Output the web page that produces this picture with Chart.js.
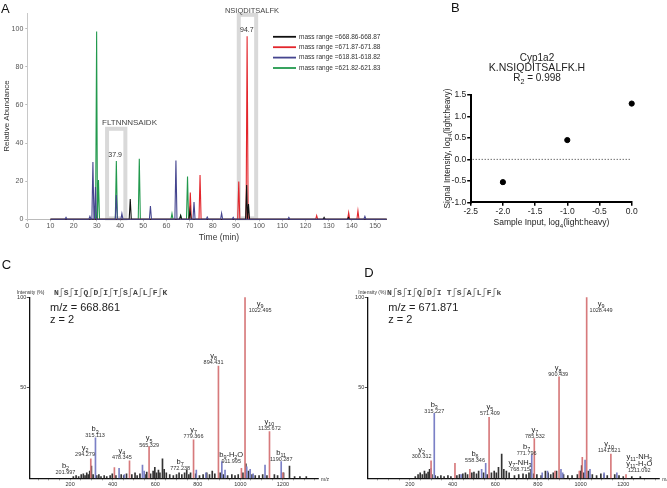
<!DOCTYPE html>
<html>
<head>
<meta charset="utf-8">
<script src="https://cdn.jsdelivr.net/npm/chart.js@4.4.1/dist/chart.umd.min.js"></script>
<style>
  html, body { margin: 0; padding: 0; background: #fff; }
  #wrap { position: relative; width: 667px; height: 488px; overflow: hidden; }
  canvas { position: absolute; }
</style>
</head>
<body>
<div id="wrap">
  <canvas id="chartA" width="400" height="245" style="left:0;top:0;width:400px;height:245px"></canvas>
  <canvas id="chartB" width="267" height="245" style="left:400px;top:0;width:267px;height:245px"></canvas>
  <canvas id="chartC" width="335" height="243" style="left:0;top:245px;width:335px;height:243px"></canvas>
  <canvas id="chartD" width="332" height="243" style="left:335px;top:245px;width:332px;height:243px"></canvas>
</div>
<script>
// ---- panel A: extracted ion chromatograms [time, relative abundance]
const timeTicks = [0, 10, 20, 30, 40, 50, 60, 70, 80, 90, 100, 110, 120, 130, 140, 150]
const abundanceTicks = [0, 20, 40, 60, 80, 100]
const massRanges = [
  "mass range =668.86-668.87",
  "mass range =671.87-671.88",
  "mass range =618.81-618.82",
  "mass range =621.82-621.83"
]
const peaksBlack = [[44.4, 10.7], [66.1, 2], [70.2, 5], [94.6, 18], [95.4, 8], [128, 1], [138.5, 1]]
const peaksRed = [[70.3, 14], [74.5, 23.3], [91.2, 19.8], [94.8, 96], [124.8, 2], [138.6, 3.5], [142.6, 4.5]]
const peaksNavy = [[16.7, 1], [27, 1.5], [28.3, 30], [29.4, 17], [38.4, 12.8], [40.8, 3], [53.1, 7], [64.1, 30.8],
  [71.9, 9], [77.6, 1.2], [83.8, 3.2], [88.8, 1], [112.8, 1], [145.6, 1.5]]
const peaksGreen = [[29.9, 98.5], [30.7, 20.6], [38.4, 30.6], [48.3, 31.8], [62.4, 3], [66.2, 2], [69.1, 22.5]]

// ---- panel B: calibration
const inputLog = [-2.0, -1.0, 0.0]
const signalLog = [-0.53, 0.45, 1.3]
const inputTicks = [-2.5, -2.0, -1.5, -1.0, -0.5, 0.0]
const signalTicks = [-1.0, -0.5, 0.0, 0.5, 1.0, 1.5]

// ---- panels C / D: MS/MS spectra [m/z, intensity %]
const mzTicks = [200, 400, 600, 800, 1000, 1200]
const intensityTicks = [50, 100]

const lightSeq = ["N", "S", "I", "Q", "D", "I", "T", "S", "A", "L", "F", "K"]
const lightCuts = [1, 1, 1, 1, 1, 1, 1, 1, 1, 1, 1]
const heavySeq = ["N", "S", "I", "Q", "D", "I", "T", "S", "A", "L", "F", "k"]
const heavyCuts = [1, 1, 1, 1, 1, 0, 1, 1, 1, 1, 1]

const lightRed = [[297, 10.7], [408, 5.9], [479, 9.6], [571, 17.5], [780, 21.2], [897, 62], [1005, 5.5],
  [1022, 100], [1137, 25.8], [1200, 3]]
const lightBlue = [[319, 22.4], [430, 5.5], [455, 2], [540, 7.3], [548, 4], [793, 4.6], [838, 3], [913, 9.2],
  [928, 4.6], [1030, 6.4], [1046, 5], [1060, 2.5], [1116, 7.3], [1192, 9.2]]
const lightBlack = [[215, 1], [228, 1.5], [240, 1], [252, 2], [262, 2.5], [270, 1.5], [278, 3], [285, 2], [292, 4],
  [300, 6.8], [308, 2], [325, 1.5], [335, 2], [345, 1], [360, 1.5], [372, 1], [388, 1.5], [398, 2.5], [415, 1.5],
  [440, 2], [452, 1.5], [465, 2.5], [490, 2], [505, 3], [515, 1.5], [528, 2.5], [552, 2], [560, 3.5], [578, 2.5],
  [590, 4], [598, 6], [606, 3], [615, 4.5], [622, 3], [634, 10.7], [642, 5], [652, 3], [668, 2], [685, 1.5],
  [700, 2], [712, 3], [725, 2], [738, 3], [748, 4.5], [758, 2], [766, 3], [790, 2.5], [808, 1.5], [825, 2],
  [842, 3], [855, 2], [868, 4], [880, 2.5], [905, 3], [920, 2], [940, 1.5], [960, 2], [975, 1.5], [990, 2],
  [1012, 3], [1026, 8], [1038, 4], [1055, 2], [1070, 1.5], [1088, 1.5], [1105, 2], [1125, 1.5], [1160, 2],
  [1175, 1.5], [1203, 3], [1231, 6.8], [1255, 1], [1280, 1], [1310, 1]]
// [ion name(s), m/z text, label m/z, label intensity]
const lightIons = [
  ["b_2", "201.997", 178, 3.1],
  ["y_2", "294.279", 270, 13.4],
  ["b_3", "315.113", 317, 23.4],
  ["y_4", "478.345", 443, 11.6],
  ["y_5", "565.329", 571, 18.4],
  ["b_7", "772.238", 717, 5.5],
  ["y_7", "779.366", 780, 23],
  ["y_8", "894.431", 874, 63.9],
  ["b_9-H_2O", "911.995", 957, 9.2],
  ["y_9", "1022.495", 1093, 92.6],
  ["y_10", "1135.672", 1137, 27.6],
  ["b_11", "1190.287", 1192, 10.5]
]

const heavyRed = [[299, 9.7], [411, 8.3], [481, 5], [571, 33.7], [783, 22], [880, 4], [899, 56], [994, 4],
  [1008, 11.6], [1028.5, 100], [1142, 13.4], [1213, 2]]
const heavyBlue = [[299, 5.5], [314, 35.9], [440, 2], [536, 5], [555, 8.3], [771, 12.9], [820, 3], [845, 4],
  [908, 5], [916, 3], [1021, 10], [1044, 5], [1110, 3], [1170, 3]]
const heavyBlack = [[225, 1], [238, 2], [248, 3], [258, 2], [268, 4], [276, 2.5], [285, 3.5], [292, 5], [303, 2],
  [318, 1.5], [330, 1], [345, 1.5], [360, 1], [378, 1.5], [392, 1], [420, 1.5], [432, 2], [448, 2.5], [460, 3],
  [470, 2], [490, 3], [500, 3.5], [512, 2.5], [522, 4], [545, 3], [562, 2], [582, 3], [595, 4], [605, 3], [615, 6],
  [630, 13.4], [640, 5], [652, 4], [665, 3], [690, 1.5], [710, 2], [730, 2.5], [745, 2], [758, 3], [768, 5],
  [780, 2.5], [795, 2], [815, 1.5], [835, 4], [848, 3], [860, 2], [872, 3], [887, 4], [920, 2], [940, 1.5],
  [960, 1.5], [985, 2], [1000, 4], [1005, 7], [1015, 3], [1036, 4], [1055, 2], [1075, 1.5], [1095, 2.5],
  [1110, 2], [1125, 1.5], [1160, 2], [1180, 1.5], [1200, 1], [1240, 1], [1280, 1]]
const heavyIons = [
  ["y_2", "300.312", 255, 12.3],
  ["b_3", "315.227", 314, 36.8],
  ["b_6", "558.346", 505, 10.1],
  ["y_5", "571.409", 575, 35.9],
  ["y_7-NH_3", "768.715", 716, 5],
  ["b_7", "771.796", 747, 13.8],
  ["y_7", "785.532", 786, 23],
  ["y_8", "900.439", 895, 57.1],
  ["y_9", "1028.449", 1096, 92.6],
  ["y_10", "1141.621", 1134, 15.2],
  ["y_11-NH_3|y_11-H_2O", "1211.092", 1275, 4.3]
]

const SANS = "'Liberation Sans', Arial, sans-serif"
Chart.defaults.font.family = SANS
Chart.defaults.animation = false
Chart.defaults.events = []
Chart.defaults.plugins.legend.display = false
Chart.defaults.plugins.tooltip.enabled = false

const setTicks = list => axis => { axis.ticks = list.map(v => ({ value: v })) }

function txt(ctx, s, x, y, o = {}) {
  ctx.save()
  ctx.font = o.font || `8px ${SANS}`
  ctx.fillStyle = o.color || "#222"
  ctx.textAlign = o.align || "left"
  ctx.textBaseline = o.base || "alphabetic"
  ctx.translate(x, y)
  if (o.rot) ctx.rotate(o.rot)
  ctx.fillText(s, 0, 0)
  ctx.restore()
}

// "b_9-H_2O" -> b, sub 9, -H, sub 2, O
function rich(ctx, s, x, y, size, o = {}) {
  const parts = s.split(/_(\d+)/)
  ctx.save()
  ctx.fillStyle = o.color || "#222"
  ctx.textBaseline = o.base || "alphabetic"
  const fontOf = i => (i % 2 ? `${size * 0.72}px ${SANS}` : `${size}px ${SANS}`)
  let w = 0
  parts.forEach((p, i) => { ctx.font = fontOf(i); w += ctx.measureText(p).width })
  ctx.translate(x, y)
  if (o.rot) ctx.rotate(o.rot)
  let cx = o.align === "center" ? -w / 2 : 0
  parts.forEach((p, i) => {
    ctx.font = fontOf(i)
    ctx.fillText(p, cx, i % 2 ? size * 0.3 : 0)
    cx += ctx.measureText(p).width
  })
  ctx.restore()
}

// each peak is a narrow triangle on a flat baseline
function trace(peaks) {
  const pts = [{ x: 10, y: 0 }]
  peaks.forEach(([t, h]) => pts.push({ x: t - 0.45, y: 0 }, { x: t, y: h }, { x: t + 0.45, y: 0 }))
  pts.push({ x: 155, y: 0 })
  return pts.sort((a, b) => a.x - b.x)
}

const traceColors = ["#111111", "#e3262c", "#45458f", "#22994d"]

// ================= A =================
new Chart(document.getElementById("chartA"), {
  type: "line",
  data: {
    datasets: [
      { data: trace(peaksNavy), borderColor: traceColors[2] },
      { data: trace(peaksBlack), borderColor: traceColors[0] },
      { data: trace(peaksRed), borderColor: traceColors[1] },
      { data: trace(peaksGreen), borderColor: traceColors[3] }
    ].map(d => ({ ...d, borderWidth: 1.1, pointRadius: 0, tension: 0, clip: 3 }))
  },
  options: {
    responsive: false,
    layout: { padding: { top: 13.5, right: 13.3, left: 0, bottom: 0 } },
    scales: {
      x: {
        type: "linear", min: 0, max: 155,
        afterBuildTicks: setTicks(timeTicks),
        afterFit: s => { s.height = 25.7 },
        ticks: { font: { size: 7 }, color: "#555", padding: 1, maxRotation: 0, autoSkip: false },
        grid: { drawOnChartArea: false, tickLength: 2, color: "#bbb" },
        border: { color: "#bbb", dash: [2, 2] }
      },
      y: {
        min: 0, max: 108,
        afterBuildTicks: setTicks(abundanceTicks),
        afterFit: s => { s.width = 27.3 },
        ticks: { font: { size: 7 }, color: "#555", padding: 2 },
        grid: { drawOnChartArea: false, tickLength: 2, color: "#bbb" },
        border: { color: "#c8c8c8" }
      }
    }
  },
  plugins: [{
    id: "panelA",
    beforeDatasetsDraw(chart) {
      const { ctx, scales: { x, y } } = chart
      ctx.save()
      ctx.strokeStyle = "#d9d9d9"
      ctx.lineWidth = 4
      ;[[34.4, 42.3, 47.5], [91.2, 98.7, 107.3]].forEach(([t0, t1, top]) => {
        const x0 = x.getPixelForValue(t0), x1 = x.getPixelForValue(t1)
        const y0 = y.getPixelForValue(top), y1 = y.getPixelForValue(0.5)
        ctx.strokeRect(x0, y0, x1 - x0, y1 - y0)
      })
      ctx.restore()
    },
    afterDraw(chart) {
      const { ctx, scales: { x } } = chart
      txt(ctx, "A", 1, 12.7, { font: `13px ${SANS}`, color: "#111" })
      txt(ctx, "Relative Abundance", 8.5, 116, { font: `8px ${SANS}`, color: "#333", align: "center", rot: -Math.PI / 2 })
      txt(ctx, "Time (min)", 219, 240, { font: `8.5px ${SANS}`, color: "#333", align: "center" })
      txt(ctx, "FLTNNNSAIDK", 102, 125, { font: `8px ${SANS}`, color: "#444" })
      txt(ctx, "37.9", x.getPixelForValue(37.9), 156.5, { font: `7px ${SANS}`, color: "#333", align: "center" })
      txt(ctx, "NSIQDITSALFK", 252, 13, { font: `7.5px ${SANS}`, color: "#444", align: "center" })
      txt(ctx, "94.7", x.getPixelForValue(94.7), 31.5, { font: `7px ${SANS}`, color: "#333", align: "center" })
      massRanges.forEach((label, i) => {
        const yy = 36.8 + i * 10.4
        ctx.save()
        ctx.strokeStyle = traceColors[i]
        ctx.lineWidth = 1.8
        ctx.beginPath(); ctx.moveTo(273, yy); ctx.lineTo(296, yy); ctx.stroke()
        ctx.restore()
        txt(ctx, label, 299, yy, { font: `6.5px ${SANS}`, color: "#333", base: "middle" })
      })
    }
  }]
})

// ================= B =================
new Chart(document.getElementById("chartB"), {
  type: "scatter",
  data: {
    datasets: [{
      data: inputLog.map((v, i) => ({ x: v, y: signalLog[i] })),
      backgroundColor: "#000", borderColor: "#000", pointRadius: 2.6, clip: false
    }]
  },
  options: {
    responsive: false,
    layout: { padding: { top: 95, right: 35.3, left: 0, bottom: 0 } },
    scales: {
      x: {
        type: "linear", min: -2.5, max: 0,
        afterBuildTicks: setTicks(inputTicks),
        afterFit: s => { s.height = 42.7 },
        ticks: { font: { size: 8.5 }, color: "#222", padding: 1, maxRotation: 0, autoSkip: false,
          callback: v => Number(v).toFixed(1) },
        grid: { drawOnChartArea: false, tickLength: 3.5, color: "#000", lineWidth: 1.5 },
        border: { color: "#000", width: 2 }
      },
      y: {
        min: -1, max: 1.5,
        afterBuildTicks: setTicks(signalTicks),
        afterFit: s => { s.width = 70.7 },
        ticks: { font: { size: 8.5 }, color: "#222", padding: 1, callback: v => Number(v).toFixed(1) },
        grid: { drawOnChartArea: false, tickLength: 3.5, color: "#000", lineWidth: 1.5 },
        border: { color: "#000", width: 2 }
      }
    }
  },
  plugins: [{
    id: "panelB",
    beforeDatasetsDraw(chart) {
      const { ctx, chartArea, scales: { y } } = chart
      const y0 = y.getPixelForValue(0)
      ctx.save()
      ctx.strokeStyle = "#333"
      ctx.lineWidth = 1
      ctx.setLineDash([1, 2])
      ctx.beginPath(); ctx.moveTo(chartArea.left + 2, y0); ctx.lineTo(chartArea.right, y0); ctx.stroke()
      ctx.restore()
    },
    afterDraw(chart) {
      const { ctx } = chart
      txt(ctx, "B", 51, 12, { font: `13px ${SANS}`, color: "#111" })
      txt(ctx, "Cyp1a2", 137, 61, { font: `10px ${SANS}`, color: "#222", align: "center" })
      txt(ctx, "K.NSIQDITSALFK.H", 137, 70.5, { font: `10.5px ${SANS}`, color: "#222", align: "center" })
      rich(ctx, "R_2 = 0.998", 137, 80.5, 10, { color: "#222", align: "center" })
      rich(ctx, "Signal Intensity, log_4(light:heavy)", 50, 148.5, 8.3, { color: "#222", align: "center", rot: -Math.PI / 2 })
      rich(ctx, "Sample Input, log_4(light:heavy)", 151.5, 225, 8.5, { color: "#222", align: "center" })
    }
  }]
})

// ================= C / D =================
function spectrum(canvasId, red, blue, black, ions, seq, cuts, opts) {
  const bar = (arr, color) => ({
    type: "bar", data: arr.map(([x, y]) => ({ x, y })),
    backgroundColor: color, barThickness: 1, grouped: false
  })
  return new Chart(document.getElementById(canvasId), {
    type: "bar",
    data: { datasets: [bar(red, "#d77a7c"), bar(blue, "#7b80c6"), bar(black, "#333")] },
    options: {
      responsive: false,
      layout: { padding: { top: 52.3, right: opts.padRight, left: 0, bottom: 0 } },
      scales: {
        x: {
          type: "linear", min: opts.min, max: opts.max, offset: false,
          afterBuildTicks: axis => {
            const t = []
            for (let v = 50; v <= opts.max; v += 50) t.push({ value: v })
            axis.ticks = t
          },
          afterFit: s => { s.height = 9.7 },
          ticks: { font: { size: 5.5 }, color: "#333", padding: 0.5, maxRotation: 0, autoSkip: false,
            callback: v => (mzTicks.includes(v) ? v : "") },
          grid: { drawOnChartArea: false, tickLength: 2, color: "#333", lineWidth: 0.6, offset: false },
          border: { color: "#111", width: 1.3 }
        },
        y: {
          min: 0, max: 100,
          afterBuildTicks: setTicks(intensityTicks),
          afterFit: s => { s.width = opts.axisLeft },
          ticks: { font: { size: 5.5 }, color: "#333", padding: 0.5 },
          grid: { drawOnChartArea: false, tickLength: 2.5, color: "#222", lineWidth: 0.8 },
          border: { color: "#111", width: 1.3 }
        }
      }
    },
    plugins: [{
      id: canvasId + "Notes",
      afterDraw(chart) {
        const { ctx, chartArea, scales: { x, y } } = chart
        txt(ctx, opts.letter, opts.letterX, opts.letterY, { font: `13px ${SANS}`, color: "#111" })
        txt(ctx, "Intensity (%)", opts.intX, 47.7, { font: `5px ${SANS}`, color: "#333", base: "middle" })
        txt(ctx, opts.mzText, opts.seqLeft, 65.7, { font: `11px ${SANS}`, color: "#222" })
        txt(ctx, "z = 2", opts.seqLeft, 77.7, { font: `11px ${SANS}`, color: "#222" })
        txt(ctx, "m/z", chartArea.right + 3, chartArea.bottom + 1, { font: `5px ${SANS}`, color: "#333", base: "middle" })
        // peptide sequence with fragment markers
        const step = (opts.seqLast - opts.seqFirst) / (seq.length - 1)
        seq.forEach((aa, i) => {
          const cx = opts.seqFirst + i * step
          txt(ctx, aa, cx, 47.7, { font: `bold 8px 'Liberation Mono', monospace`, color: "#444", align: "center", base: "middle" })
          if (i < cuts.length && cuts[i]) {
            const mx = cx + step / 2
            ctx.save()
            ctx.strokeStyle = "#666"
            ctx.lineWidth = 0.7
            ctx.beginPath()
            ctx.moveTo(mx, 43.5); ctx.lineTo(mx, 51.5)
            ctx.moveTo(mx, 43.5); ctx.lineTo(mx + 2.5, 43.5)
            ctx.moveTo(mx, 51.5); ctx.lineTo(mx - 2.5, 51.5)
            ctx.stroke()
            ctx.restore()
          }
        })
        // ion labels
        ions.forEach(([names, mz, lx, ly]) => {
          const px = x.getPixelForValue(lx), py = y.getPixelForValue(ly)
          txt(ctx, mz, px, py, { font: `5.5px ${SANS}`, color: "#333", align: "center", base: "middle" })
          const list = names.split("|")
          list.forEach((n, j) => {
            rich(ctx, n, px, py - 4.5 - 7.5 * (list.length - 1 - j), 7.5, { color: "#222", align: "center" })
          })
        })
      }
    }]
  })
}

spectrum("chartC", lightRed, lightBlue, lightBlack, lightIons, lightSeq, lightCuts, {
  min: 8, max: 1365, padRight: 17, axisLeft: 29.3,
  letter: "C", letterX: 1.7, letterY: 24.3, intX: 16.7,
  mzText: "m/z = 668.861", seqLeft: 50, seqFirst: 56.3, seqLast: 165
})
spectrum("chartD", heavyRed, heavyBlue, heavyBlack, heavyIons, heavySeq, heavyCuts, {
  min: 0, max: 1369, padRight: 7.7, axisLeft: 32.3,
  letter: "D", letterX: 29.3, letterY: 31.7, intX: 23.3,
  mzText: "m/z = 671.871", seqLeft: 53.3, seqFirst: 54.5, seqLast: 164
})
</script>
</body>
</html>
